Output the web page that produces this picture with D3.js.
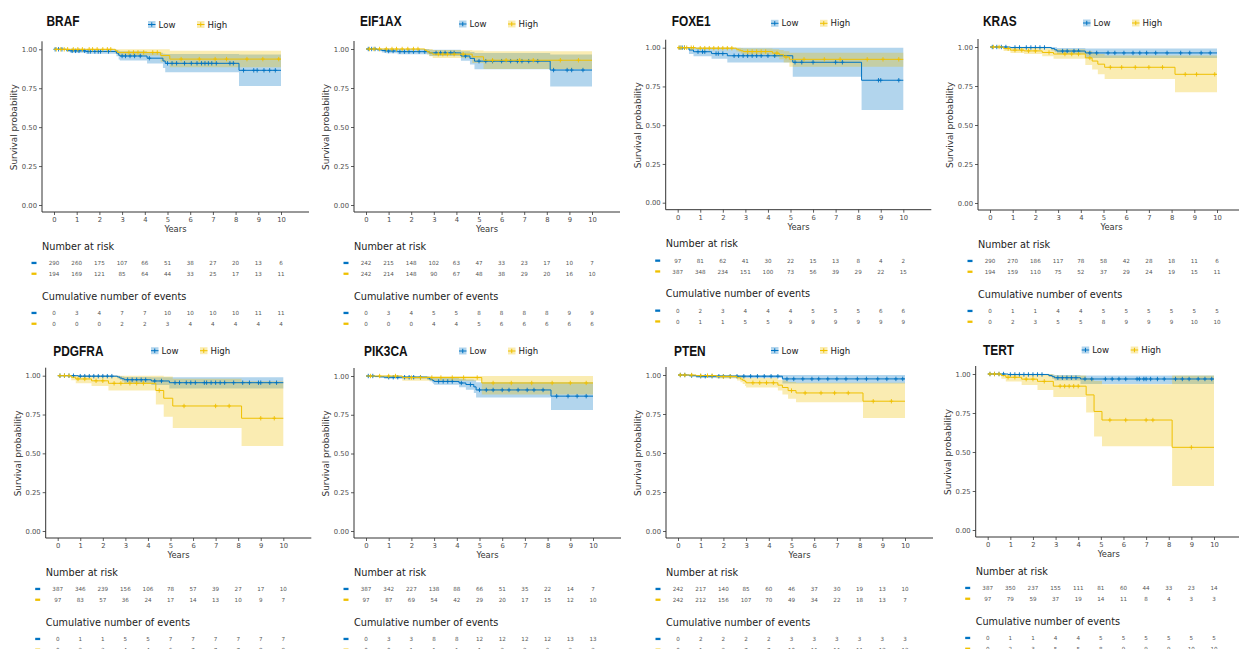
<!DOCTYPE html>
<html>
<head>
<meta charset="utf-8">
<script src="https://cdn.jsdelivr.net/npm/d3@7"></script>
<style>
  body { margin: 0; background: #fff; }
  svg { display: block; }
  text { font-family: "DejaVu Sans", sans-serif; }
</style>
</head>
<body>
<script>
// gene panels, left to right, top to bottom
var genes = ["BRAF", "EIF1AX", "FOXE1", "KRAS", "PDGFRA", "PIK3CA", "PTEN", "TERT"];
var groups = ["Low", "High"];
var years = [0, 1, 2, 3, 4, 5, 6, 7, 8, 9, 10];
var yTicks = [0, 0.25, 0.5, 0.75, 1];

// KM steps per gene: [time, survival, lower CI, upper CI]
var lowCurves = [
  [[0,1,1,1],[0.55,0.993,0.983,1],[0.7,0.99,0.978,1],[1.4,0.986,0.972,1],[2.75,0.975,0.955,0.995],[2.85,0.962,0.935,0.99],[2.9,0.957,0.928,0.987],[4.1,0.943,0.908,0.978],[4.8,0.925,0.88,0.972],[4.9,0.91,0.852,0.97],[8.15,0.865,0.765,0.966]],
  [[0,1,1,1],[0.5,0.995,0.985,1],[0.7,0.99,0.978,1],[0.9,0.987,0.973,1],[1.4,0.983,0.967,1],[2.8,0.975,0.955,0.995],[4.2,0.955,0.925,0.985],[4.6,0.94,0.9,0.98],[4.8,0.922,0.87,0.975],[8.15,0.865,0.76,0.965]],
  [[0,1,1,1],[0.5,0.985,0.96,1],[0.7,0.974,0.945,1],[1.5,0.962,0.928,1],[2.2,0.948,0.905,1],[5.1,0.906,0.813,1],[8.15,0.79,0.598,1]],
  [[0,1,1,1],[0.9,0.997,0.99,1],[2.7,0.99,0.978,1],[2.85,0.982,0.966,0.998],[2.95,0.974,0.955,0.993],[4.2,0.962,0.93,0.99]],
  [[0,1,1,1],[0.9,0.997,0.992,1],[2.65,0.992,0.982,1],[2.75,0.985,0.972,0.998],[2.85,0.98,0.963,0.995],[2.95,0.974,0.952,0.992],[4.15,0.966,0.94,0.99],[4.95,0.955,0.917,0.99]],
  [[0,1,1,1],[0.4,0.997,0.992,1],[0.6,0.995,0.988,1],[0.8,0.992,0.983,1],[2.7,0.987,0.975,0.998],[2.8,0.98,0.966,0.995],[2.9,0.975,0.958,0.992],[2.95,0.97,0.95,0.99],[3.0,0.965,0.943,0.987],[4.1,0.955,0.928,0.982],[4.4,0.945,0.912,0.978],[4.75,0.93,0.89,0.972],[4.85,0.91,0.862,0.96],[8.15,0.87,0.78,0.96]],
  [[0,1,1,1],[0.5,0.996,0.988,1],[0.8,0.992,0.98,1],[4.6,0.975,0.945,1]],
  [[0,1,1,1],[0.9,0.997,0.992,1],[2.7,0.99,0.98,1],[2.85,0.983,0.97,0.997],[2.95,0.976,0.958,0.994],[4.1,0.968,0.936,0.99]]
];
var highCurves = [
  [[0,1,1,1],[2.7,0.99,0.975,1],[2.8,0.98,0.96,1],[4.7,0.96,0.92,1],[5.1,0.937,0.885,0.99]],
  [[0,1,1,1],[2.6,0.992,0.98,1],[2.7,0.983,0.965,1],[2.8,0.975,0.953,1],[2.95,0.967,0.942,0.993],[4.7,0.95,0.91,0.99],[5.2,0.928,0.872,0.985]],
  [[0,1,1,1],[0.8,0.997,0.99,1],[2.6,0.99,0.975,1],[2.7,0.985,0.97,1],[2.8,0.98,0.962,0.998],[2.9,0.975,0.955,0.995],[4.2,0.965,0.94,0.99],[4.5,0.955,0.925,0.985],[4.7,0.94,0.905,0.977],[4.95,0.925,0.877,0.968]],
  [[0,1,1,1],[0.6,0.99,0.975,1],[0.9,0.98,0.962,0.998],[1.5,0.975,0.955,0.995],[2.3,0.965,0.94,0.99],[2.8,0.955,0.925,0.985],[4.2,0.93,0.885,0.975],[4.5,0.91,0.855,0.965],[4.75,0.89,0.825,0.955],[5.05,0.87,0.795,0.945],[8.15,0.825,0.71,0.945]],
  [[0,1,1,1],[0.6,0.99,0.97,1],[0.8,0.979,0.952,1],[1.5,0.967,0.933,1],[2.25,0.951,0.905,1],[4.35,0.905,0.815,1],[4.7,0.855,0.736,0.995],[5.1,0.805,0.663,0.98],[8.15,0.726,0.548,0.965]],
  [[0,1,1,1],[1.6,0.99,0.97,1],[5.1,0.955,0.88,1]],
  [[0,1,1,1],[0.8,0.996,0.988,1],[1.7,0.99,0.978,1],[2.6,0.982,0.965,0.998],[2.75,0.974,0.953,0.995],[2.85,0.966,0.942,0.99],[2.95,0.958,0.93,0.985],[3.0,0.95,0.92,0.98],[4.4,0.935,0.9,0.97],[4.6,0.92,0.875,0.965],[4.85,0.9,0.848,0.955],[5.2,0.885,0.825,0.95],[8.15,0.832,0.725,0.95]],
  [[0,1,1,1],[0.6,0.99,0.97,1],[0.8,0.979,0.952,1],[1.5,0.967,0.93,1],[2.2,0.953,0.897,1],[2.9,0.922,0.853,0.99],[4.35,0.866,0.753,0.975],[4.7,0.76,0.6,0.955],[5.05,0.705,0.537,0.935],[8.15,0.53,0.282,0.99]]
];

// censoring times (years)
var lowCensor = [
  [0.05,0.2,0.35,0.8,0.95,1.1,1.35,1.5,1.6,1.8,1.95,2.05,2.4,3.0,3.15,3.35,3.55,3.8,4.2,5.0,5.2,5.4,5.75,6.05,6.3,6.5,6.65,6.8,6.95,7.15,7.75,7.9,8.35,8.8,8.95,9.25,9.5,9.75],
  [0.1,0.25,0.4,0.85,1.0,1.2,1.5,1.7,1.9,2.1,2.35,2.6,3.1,3.3,3.5,3.75,3.9,4.4,5.0,5.3,5.6,6.0,6.4,6.7,6.9,7.2,7.6,8.3,8.9,9.1,9.6],
  [0.1,0.2,0.3,0.9,1.1,1.2,1.7,1.8,2.0,2.5,2.7,2.9,3.1,3.3,3.5,3.7,4.0,4.3,5.2,5.5,6.0,7.0,7.3,8.9,9.0,9.8],
  [0.1,0.3,0.5,0.7,1.1,1.3,1.6,1.8,2.0,2.2,2.4,3.2,3.4,3.7,3.9,4.4,4.7,5.2,5.5,5.9,6.3,6.6,6.9,7.3,7.8,8.4,8.8,9.3,9.7],
  [0.1,0.3,0.5,0.7,1.0,1.2,1.4,1.6,1.8,2.0,2.2,2.4,3.1,3.3,3.5,3.7,3.9,4.3,4.6,5.2,5.4,5.7,5.9,6.1,6.5,6.6,6.8,7.0,7.2,7.4,7.8,8.2,8.5,8.9,9.0,9.4,9.7],
  [0.1,0.3,1.0,1.2,1.4,1.7,1.9,2.1,2.4,3.2,3.4,3.6,3.8,4.2,4.6,5.0,5.3,5.6,6.0,6.3,6.7,7.1,7.4,7.8,8.4,8.9,9.3,9.7],
  [0.1,0.3,0.6,1.0,1.2,1.5,1.8,2.0,2.3,2.6,2.9,3.2,3.5,3.8,4.1,4.4,4.8,5.1,5.5,5.9,6.2,6.6,7.0,7.4,7.9,8.3,8.8,9.2,9.6,9.9],
  [0.1,0.3,0.5,0.7,1.0,1.2,1.4,1.6,1.8,2.0,2.2,2.4,3.1,3.3,3.5,3.7,3.9,4.3,4.6,5.2,5.5,5.8,6.1,6.6,6.7,6.9,7.0,7.2,7.5,7.8,8.3,8.6,8.9,9.3,9.6,9.9]
];
var highCensor = [
  [0.1,0.3,0.45,0.6,0.85,1.05,1.25,1.55,1.7,1.9,2.15,2.35,2.5,3.3,3.5,3.7,3.95,4.35,4.55,5.6,6.4,7.1,7.6,8.5,9.2,9.9],
  [0.15,0.35,0.6,0.9,1.15,1.35,1.6,1.85,2.1,2.3,3.2,3.4,3.6,3.9,4.3,5.6,6.2,6.8,7.4,8.6,9.4],
  [0.05,0.15,0.3,0.4,0.6,0.7,1.0,1.2,1.4,1.6,1.8,2.0,2.2,2.4,3.1,3.3,3.5,3.7,3.9,4.4,4.8,5.6,6.5,7.2,8.4,9.1,9.8],
  [0.15,0.4,0.8,1.1,1.4,1.7,2.0,2.6,3.3,3.6,3.9,4.4,5.3,5.8,6.4,7.0,7.6,8.6,9.1,9.9],
  [0.1,0.3,0.5,0.9,1.2,1.7,2.0,2.5,2.8,3.2,3.5,3.8,4.5,5.6,7.0,7.6,9.0,9.6],
  [0.2,0.6,1.0,1.3,2.0,2.4,2.9,3.3,3.8,4.3,4.9,5.6,6.4,7.3,8.2,9.0,9.7],
  [0.1,0.3,0.6,1.0,1.3,1.5,2.0,2.3,3.3,3.6,3.9,4.2,5.0,5.6,6.3,6.9,7.5,8.6,9.4],
  [0.1,0.3,0.5,0.9,1.2,1.7,2.0,2.5,3.2,3.4,3.6,3.8,4.0,5.4,6.1,7.0,7.3,9.0]
];

// risk table: number at risk at each year
var lowRisk = [
  [290,260,175,107,66,51,38,27,20,13,6],
  [242,215,148,102,63,47,33,23,17,10,7],
  [97,81,62,41,30,22,15,13,8,4,2],
  [290,270,186,117,78,58,42,28,18,11,6],
  [387,346,239,156,106,78,57,39,27,17,10],
  [387,342,227,138,88,66,51,35,22,14,7],
  [242,217,140,85,60,46,37,30,19,13,10],
  [387,350,237,155,111,81,60,44,33,23,14]
];
var highRisk = [
  [194,169,121,85,64,44,33,25,17,13,11],
  [242,214,148,90,67,48,38,29,20,16,10],
  [387,348,234,151,100,73,56,39,29,22,15],
  [194,159,110,75,52,37,29,24,19,15,11],
  [97,83,57,36,24,17,14,13,10,9,7],
  [97,87,69,54,42,29,20,17,15,12,10],
  [242,212,156,107,70,49,34,22,18,13,7],
  [97,79,59,37,19,14,11,8,4,3,3]
];
// cumulative number of events at each year
var lowEvents = [
  [0,3,4,7,7,10,10,10,10,11,11],
  [0,3,4,5,5,8,8,8,8,9,9],
  [0,2,3,4,4,4,5,5,5,6,6],
  [0,1,1,4,4,5,5,5,5,5,5],
  [0,1,1,5,5,7,7,7,7,7,7],
  [0,3,3,8,8,12,12,12,12,13,13],
  [0,2,2,2,2,3,3,3,3,3,3],
  [0,1,1,4,4,5,5,5,5,5,5]
];
var highEvents = [
  [0,0,0,2,2,3,4,4,4,4,4],
  [0,0,0,4,4,5,6,6,6,6,6],
  [0,1,1,5,5,9,9,9,9,9,9],
  [0,2,3,5,5,8,9,9,9,10,10],
  [0,2,3,4,4,6,7,7,7,8,8],
  [0,0,1,1,1,1,2,2,2,2,2],
  [0,1,2,7,7,10,11,11,11,12,12],
  [0,2,3,5,5,8,9,9,9,10,10]
];

var colors = ["#0073C2", "#EFC000"];

// panel placement on the page
var layout = [
  {x0: 54,  x10: 281, y1: 49.3, y0: 205,   tx: 46.5, ty: 26,    lx: 148, ly: 24.5},
  {x0: 366, x10: 592, y1: 49,   y0: 205,   tx: 360,  ty: 26,    lx: 459, ly: 24},
  {x0: 677.7, x10: 903.3, y1: 47.7, y0: 202.7, tx: 671.7, ty: 26, lx: 771, ly: 23.3},
  {x0: 990, x10: 1217, y1: 47,  y0: 203,   tx: 983,  ty: 26,    lx: 1083, ly: 23},
  {x0: 57.7, x10: 283.3, y1: 375.7, y0: 531, tx: 53.3, ty: 355.7, lx: 151, ly: 350.7},
  {x0: 366, x10: 593, y1: 376,  y0: 531,   tx: 364,  ty: 356,   lx: 459, ly: 351},
  {x0: 678, x10: 905, y1: 375,  y0: 531,   tx: 674,  ty: 355.5, lx: 771, ly: 350.5},
  {x0: 987.7, x10: 1214, y1: 374, y0: 530, tx: 983,  ty: 355,   lx: 1081.7, ly: 350}
];

var svg = d3.select("body").append("svg")
  .attr("width", 1239)
  .attr("height", 649);

function survAt(curve, t) {
  var s = curve[0][1];
  curve.forEach(function(d) { if (d[0] <= t) s = d[1]; });
  return s;
}

genes.forEach(function(gene, i) {
  var L = layout[i];
  var x = d3.scaleLinear().domain([0, 10]).range([L.x0, L.x10]);
  var y = d3.scaleLinear().domain([0, 1]).range([L.y0, L.y1]);
  var g = svg.append("g").attr("class", "panel");

  var curves = [lowCurves[i], highCurves[i]];
  var censors = [lowCensor[i], highCensor[i]];
  var full = curves.map(function(c) {
    var last = c[c.length - 1];
    return c.concat([[10, last[1], last[2], last[3]]]);
  });

  var band = d3.area().curve(d3.curveStepAfter)
    .x(d => x(d[0])).y0(d => y(d[2])).y1(d => y(d[3]));
  var line = d3.line().curve(d3.curveStepAfter)
    .x(d => x(d[0])).y(d => y(d[1]));

  full.forEach(function(c, k) {
    g.append("path").attr("d", band(c))
      .attr("fill", colors[k]).attr("fill-opacity", 0.3);
  });
  full.forEach(function(c, k) {
    g.append("path").attr("d", line(c))
      .attr("fill", "none").attr("stroke", colors[k]).attr("stroke-width", 1);
    g.selectAll(null).data(censors[k]).enter().append("path")
      .attr("d", function(t) {
        var cx = x(t), cy = y(survAt(curves[k], t));
        return "M" + (cx - 1.8) + "," + cy + "H" + (cx + 1.8) + "M" + cx + "," + (cy - 2.2) + "V" + (cy + 2.2);
      })
      .attr("stroke", colors[k]).attr("stroke-width", 0.9);
  });

  // axes
  var axisX = L.x0 - 12;
  var axisY = L.y0 + 7;
  var yAxis = d3.axisLeft(y).tickValues(yTicks).tickFormat(d3.format(".2f")).tickSize(3).tickPadding(2);
  var ya = g.append("g").attr("transform", "translate(" + axisX + ",0)").call(yAxis);
  var xAxis = d3.axisBottom(x).tickValues(years).tickSize(3).tickPadding(2);
  var xa = g.append("g").attr("transform", "translate(0," + axisY + ")").call(xAxis);
  [ya, xa].forEach(function(a) {
    a.select(".domain").remove();
    a.selectAll("line").attr("stroke", "#333").attr("stroke-width", 0.8);
    a.selectAll("text").attr("fill", "#4d4d4d").style("font-size", "6.8px")
      .style("font-family", "DejaVu Sans");
  });
  g.append("line").attr("x1", axisX).attr("x2", axisX)
    .attr("y1", L.y1 - 8).attr("y2", axisY)
    .attr("stroke", "#333").attr("stroke-width", 1);
  g.append("line").attr("x1", axisX).attr("x2", L.x10 + 28)
    .attr("y1", axisY).attr("y2", axisY)
    .attr("stroke", "#333").attr("stroke-width", 1);

  g.append("text")
    .attr("x", (axisX + L.x10 + 28) / 2).attr("y", axisY + 20)
    .attr("text-anchor", "middle").style("font-size", "8.4px").attr("fill", "#333")
    .text("Years");
  g.append("text")
    .attr("transform", "translate(" + (L.x0 - 37) + "," + ((L.y0 + L.y1) / 2) + ") rotate(-90)")
    .attr("text-anchor", "middle").style("font-size", "8.9px").attr("fill", "#333")
    .text("Survival probability");

  // title and legend
  g.append("text")
    .attr("transform", "translate(" + L.tx + "," + L.ty + ") scale(0.82,1)")
    .style("font-family", "'Liberation Sans', Arial, sans-serif")
    .style("font-weight", "bold").style("font-size", "14.5px").attr("fill", "#111")
    .text(gene);
  var lx = L.lx;
  groups.forEach(function(name, k) {
    var kx = k === 0 ? lx : lx + 49;
    g.append("rect").attr("x", kx).attr("y", L.ly - 3.5).attr("width", 7.5).attr("height", 7)
      .attr("fill", colors[k]).attr("fill-opacity", 0.3);
    g.append("path")
      .attr("d", "M" + kx + "," + L.ly + "H" + (kx + 7.5) + "M" + (kx + 3.75) + "," + (L.ly - 2.2) + "V" + (L.ly + 2.2))
      .attr("stroke", colors[k]).attr("stroke-width", 1);
    g.append("text").attr("x", kx + 10.5).attr("y", L.ly + 3)
      .style("font-size", "8.6px").attr("fill", "#222").text(name);
  });

  // risk tables
  var tables = [
    {title: "Number at risk", rows: [lowRisk[i], highRisk[i]], dy: 41},
    {title: "Cumulative number of events", rows: [lowEvents[i], highEvents[i]], dy: 91}
  ];
  tables.forEach(function(tb) {
    g.append("text").attr("x", axisX).attr("y", L.y0 + tb.dy + 3.5)
      .style("font-size", "9.7px").attr("fill", "#222").text(tb.title);
    tb.rows.forEach(function(row, k) {
      var ry = L.y0 + tb.dy + 17 + k * 10.8;
      g.append("rect").attr("x", L.x0 - 22.5).attr("y", ry - 1.2).attr("width", 5).attr("height", 2.3)
        .attr("fill", colors[k]);
      g.selectAll(null).data(row).enter().append("text")
        .attr("x", (d, j) => x(years[j])).attr("y", ry + 2)
        .attr("text-anchor", "middle").style("font-size", "5.6px").attr("fill", "#555")
        .text(d => d);
    });
  });
});
</script>
</body>
</html>
